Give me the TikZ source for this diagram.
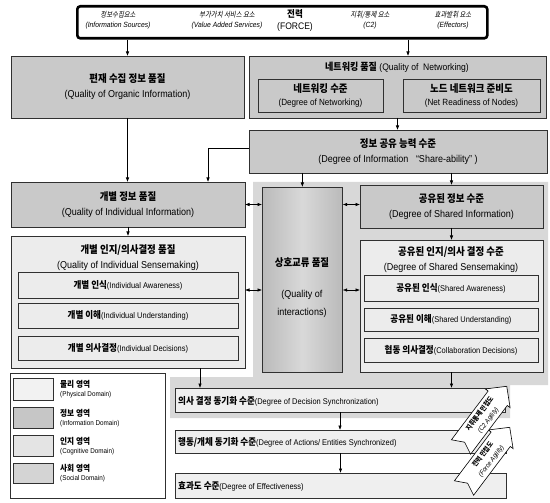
\documentclass[tikz,border=0pt]{standalone}
\usepackage{fontspec}
\setmainfont{Liberation Sans}[FakeStretch=0.9]
\newfontfamily\krfont{Noto Sans CJK KR}[FakeStretch=0.9]
\newfontfamily\krifont{Noto Sans CJK KR}[FakeStretch=0.85,FakeSlant=0.2]
\usetikzlibrary{arrows.meta}
\definecolor{infoc}{HTML}{C9C9C9}
\definecolor{cogc}{HTML}{ECECEC}
\definecolor{physc}{HTML}{EFEFEF}
\definecolor{socialc}{HTML}{D8D8D8}
\definecolor{legphys}{HTML}{F2F2F2}
\definecolor{leginfo}{HTML}{C6C6C6}
\definecolor{legcog}{HTML}{E4E4E4}
\definecolor{legsoc}{HTML}{D4D4D4}
\definecolor{linec}{HTML}{303030}
\newcommand\KR[1]{{\krfont\bfseries #1}}
\newcommand\KRI[1]{{\krifont #1}}
\newcommand\HL[2]{\KR{#1}\\[2pt]{\fontsize{10}{11}\selectfont #2}}
\newcommand\IL[2]{{\fontsize{9.5}{11}\selectfont\KR{#1}}{\fontsize{8.3}{10}\selectfont #2}}
\newcommand\rbox[7]{\node[#1, anchor=north west, inner sep=0pt, outer sep=0pt, minimum width=#5pt-#3pt, minimum height=#6pt-#4pt, align=center] (#2) at (#3,#4) {#7};}
\tikzset{
  bx/.style={draw=linec, line width=0.7pt},
  info/.style={bx, fill=infoc, font=\fontsize{10.5}{13}\selectfont},
  cog/.style={bx, fill=cogc, font=\fontsize{10.5}{13}\selectfont},
  phys/.style={bx, fill=physc},
  innerb/.style={bx, fill=cogc},
  arr/.style={-{Latex[length=4.5pt,width=3.5pt]}, line width=0.6pt, draw=black},
  darr/.style={{Latex[length=4.5pt,width=3.5pt]}-{Latex[length=4.5pt,width=3.5pt]}, line width=0.6pt, draw=black},
  topt/.style={align=center, font=\fontsize{7.5}{10}\selectfont\itshape},
  agil/.style={draw=black, fill=white, line width=0.6pt, line join=miter},
  agtxt/.style={align=center, font=\fontsize{6.8}{10.5}\selectfont, inner sep=0pt},
  legt/.style={align=left, anchor=west, font=\fontsize{8.5}{9.5}\selectfont, inner sep=0pt},
  rowt/.style={anchor=west, inner sep=0pt}
}
\begin{document}
\begin{tikzpicture}[x=1pt,y=-1pt]
\useasboundingbox (0,0) rectangle (550,503);
% social domain background
\fill[socialc] (253,182) -- (548,182) -- (548,385) -- (510,385) -- (510,418) -- (170,418) -- (170,377) -- (253,377) -- cycle;

% FORCE box
\node[draw=black, line width=2.6pt, rounded corners=3pt, fill=white, anchor=north west, inner sep=0pt, minimum width=410pt, minimum height=32pt] (force) at (76,5) {};
\node[topt] (t1) at (118,20) {\KRI{정보수집요소}\\(Information Sources)};
\node[topt] (t2) at (227,20) {\KRI{부가가치 서비스 요소}\\(Value Added Services)};
\node[align=center, font=\fontsize{9.5}{12}\selectfont] (t3) at (295,20) {\KR{전력}\\(FORCE)};
\node[topt] (t4) at (370,20) {\KRI{지휘/통제 요소}\\(C2)};
\node[topt] (t5) at (453,20) {\KRI{효과발휘 요소}\\(Effectors)};

% information domain boxes
\rbox{info}{organic}{11}{56}{244}{118}{\HL{편재 수집 정보 품질}{(Quality of Organic Information)}}
\rbox{info}{networking}{249}{56}{546}{118}{}
\node[font=\fontsize{10}{12}\selectfont] (nettitle) at (397,67) {\KR{네트워킹 품질} {\fontsize{9.5}{11}\selectfont(Quality of\ \ Networking)}};
\rbox{info}{netdeg}{258}{79}{383}{112}{\KR{네트워킹 수준}\\[0pt]{\fontsize{9}{11}\selectfont(Degree of Networking)}}
\rbox{info}{netready}{403}{79}{540}{112}{\KR{노드 네트워크 준비도}\\[0pt]{\fontsize{9}{11}\selectfont(Net Readiness of Nodes)}}
\rbox{info}{share}{249}{130}{547}{173}{\HL{정보 공유 능력 수준}{(Degree of Information \ \ “Share-ability” )}}
\rbox{info}{indinfo}{11}{182}{245}{227}{\HL{개별 정보 품질}{(Quality of Individual Information)}}
\rbox{info}{shinfo}{360}{185}{543}{228}{\HL{공유된 정보 수준}{(Degree of Shared Information)}}

% cognitive boxes
\rbox{cog}{indsense}{11}{236}{245}{368}{}
\node[align=center, font=\fontsize{10.5}{13}\selectfont] (indtitle) at (128,258) {\HL{개별 인지/의사결정 품질}{(Quality of Individual Sensemaking)}};
\rbox{innerb}{ia}{18}{272}{238}{298}{\IL{개별 인식}{(Individual Awareness)}}
\rbox{innerb}{iu}{18}{303}{238}{328}{\IL{개별 이해}{(Individual Understanding)}}
\rbox{innerb}{id}{18}{336}{238}{360}{\IL{개별 의사결정}{(Individual Decisions)}}

\rbox{cog}{shsense}{360}{240}{543}{372}{}
\node[align=center, font=\fontsize{10.5}{13}\selectfont] (shtitle) at (451,260) {\HL{공유된 인지/의사 결정 수준}{(Degree of Shared Sensemaking)}};
\rbox{innerb}{sa}{364}{275}{538}{301}{\IL{공유된 인식}{(Shared Awareness)}}
\rbox{innerb}{su}{364}{308}{538}{331}{\IL{공유된 이해}{(Shared Understanding)}}
\rbox{innerb}{sd}{364}{338}{538}{362}{\IL{협동 의사결정}{(Collaboration Decisions)}}

% interactions
\node[bx, anchor=north west, inner sep=0pt, minimum width=80pt, minimum height=185pt, left color=black!27, right color=black!27, middle color=black!15] (interact) at (262,187) {};
\node[font=\fontsize{10.5}{13}\selectfont] (inttitle) at (302,263) {\KR{상호교류 품질}};
\node[align=center, font=\fontsize{10}{18}\selectfont] (inteng) at (302,304) {(Quality of\\interactions)};

% physical rows
\rbox{phys}{decision}{175}{388}{505}{412}{}
\node[rowt] (dect) at (178,401) {\IL{의사 결정 동기화 수준}{(Degree of Decision Synchronization)}};
\rbox{phys}{actions}{175}{430}{506}{453}{}
\node[rowt] (actt) at (178,442) {\IL{행동/개체 동기화 수준}{(Degree of Actions/ Entities Synchronized)}};
\rbox{phys}{effect}{175}{473}{506}{498}{}
\node[rowt] (efft) at (178,486) {\IL{효과도 수준}{(Degree of Effectiveness)}};

% agility arrows
\draw[agil, shift={(464,488)}, rotate=53] (0,-12) -- (61,-12) -- (61,-15.5) -- (76,0) -- (61,15.5) -- (61,12) -- (0,12) -- (6,0) -- cycle;
\node[agtxt, rotate=53] (fa) at (487,458) {\KR{전력 민첩도}\\\textit{(Force Agility)}};
\draw[agil, shift={(461,447)}, rotate=53] (0,-12) -- (61,-12) -- (61,-15.5) -- (76,0) -- (61,15.5) -- (61,12) -- (0,12) -- (6,0) -- cycle;
\node[agtxt, rotate=53] (ca) at (484,417) {\KR{지휘통제 민첩도}\\\textit{(C2 Agility)}};

% legend
\node[draw=linec, line width=0.7pt, fill=white, anchor=north west, inner sep=0pt, minimum width=155pt, minimum height=125pt] (legend) at (10,373) {};
\node[bx, fill=legphys, anchor=north west, inner sep=0pt, minimum width=40pt, minimum height=22pt] (lg1) at (13,378) {};
\node[bx, fill=leginfo, anchor=north west, inner sep=0pt, minimum width=40pt, minimum height=21pt] (lg2) at (13,407) {};
\node[bx, fill=legcog, anchor=north west, inner sep=0pt, minimum width=40pt, minimum height=21pt] (lg3) at (13,435) {};
\node[bx, fill=legsoc, anchor=north west, inner sep=0pt, minimum width=40pt, minimum height=20pt] (lg4) at (13,463) {};
\node[legt] (lt1) at (60,389) {\KR{물리 영역}\\{\fontsize{7}{8}\selectfont(Physical Domain)}};
\node[legt] (lt2) at (60,418) {\KR{정보 영역}\\{\fontsize{7}{8}\selectfont(Information Domain)}};
\node[legt] (lt3) at (60,446) {\KR{인지 영역}\\{\fontsize{7}{8}\selectfont(Cognitive Domain)}};
\node[legt] (lt4) at (60,473) {\KR{사회 영역}\\{\fontsize{7}{8}\selectfont(Social Domain)}};

% helper coordinates
\coordinate (xn) at (408,0);
\coordinate (xq) at (208,0);
\coordinate (xd) at (200,0);
\coordinate (yb) at (0,290);
\coordinate (ys) at (0,148);

% connectors
\draw[arr] (force.south -| organic) -- (organic.north);
\draw[arr] (force.south -| xn) -- (networking.north -| xn);
\draw[arr] (networking.south) -- (share.north -| networking);
\draw[arr] (organic.south) -- (indinfo.north -| organic);
\draw[arr] (share.west |- ys) -| (indinfo.north -| xq);
\draw[arr] (share.south -| interact) -- (interact.north);
\draw[arr] (share.south -| shinfo) -- (shinfo.north);
\draw[darr] (indinfo.east) -- (indinfo.east -| interact.west);
\draw[darr] (interact.east |- indinfo.east) -- (shinfo.west |- indinfo.east);
\draw[darr] (indsense.east |- yb) -- (interact.west |- yb);
\draw[darr] (interact.east |- yb) -- (shsense.west |- yb);
\draw[arr] (indinfo.south) -- (indsense.north);
\draw[arr] (shinfo.south) -- (shsense.north);
\draw[arr] (indsense.south -| xd) -- (decision.north -| xd);
\draw[arr] (shsense.south) -- (decision.north -| shsense);
\draw[arr] (decision.south) -- (actions.north -| decision);
\draw[arr] (actions.south) -- (effect.north);
\end{tikzpicture}
\end{document}
